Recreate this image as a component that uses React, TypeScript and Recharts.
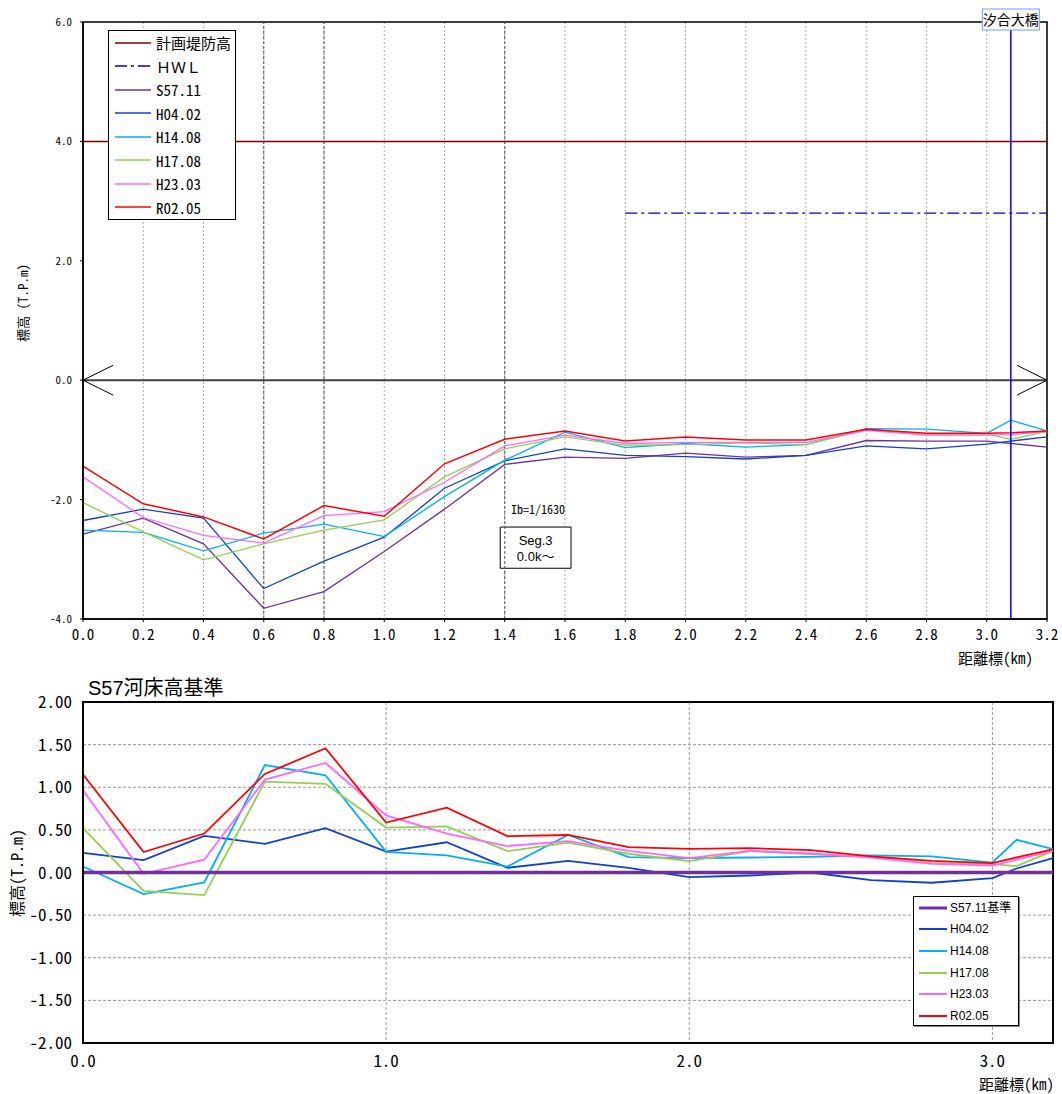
import React from 'react'
import {
  LineChart,
  Line,
  XAxis,
  YAxis,
  CartesianGrid,
  Legend,
  ReferenceLine,
  ReferenceArea,
  ReferenceDot,
} from 'recharts'

// 距離標 (km)。3.08kは汐合大橋の位置
const distKm = [0.0, 0.2, 0.4, 0.6, 0.8, 1.0, 1.2, 1.4, 1.6, 1.8, 2.0, 2.2, 2.4, 2.6, 2.8, 3.0, 3.08, 3.2]

// 上段：平均河床高 (T.P.m)
const planBank = [4.0, 4.0, 4.0, 4.0, 4.0, 4.0, 4.0, 4.0, 4.0, 4.0, 4.0, 4.0, 4.0, 4.0, 4.0, 4.0, 4.0, 4.0]
const hwlLevel = [null, null, null, null, null, null, null, null, null, 2.8, 2.8, 2.8, 2.8, 2.8, 2.8, 2.8, 2.8, 2.8]
const bedS5711 = [-2.58, -2.31, -2.74, -3.82, -3.54, -2.87, -2.16, -1.41, -1.29, -1.31, -1.22, -1.29, -1.26, -1.01, -1.02, -1.02, -1.06, -1.12]
const bedH0402 = [-2.35, -2.16, -2.31, -3.49, -3.03, -2.63, -1.81, -1.35, -1.15, -1.26, -1.28, -1.32, -1.26, -1.1, -1.15, -1.07, -1.02, -0.95]
const bedH1408 = [-2.51, -2.55, -2.86, -2.56, -2.41, -2.62, -1.95, -1.34, -0.87, -1.13, -1.06, -1.12, -1.08, -0.81, -0.82, -0.89, -0.67, -0.85]
const bedH1708 = [-2.05, -2.54, -3.01, -2.74, -2.51, -2.34, -1.62, -1.15, -0.95, -1.09, -1.08, -1.05, -1.08, -0.83, -0.91, -0.9, -0.99, -0.86]
const bedH2303 = [-1.62, -2.3, -2.6, -2.73, -2.27, -2.2, -1.71, -1.1, -0.92, -1.06, -1.04, -1.04, -1.04, -0.84, -0.92, -0.92, -0.91, -0.86]
const bedR0205 = [-1.44, -2.07, -2.29, -2.66, -2.1, -2.28, -1.4, -0.99, -0.85, -1.02, -0.95, -1.0, -1.0, -0.82, -0.89, -0.89, -0.88, -0.85]

// 下段：S57.11河床高との差 (m)
const diffS5711 = [0, 0, 0, 0, 0, 0, 0, 0, 0, 0, 0, 0, 0, 0, 0, 0, 0, 0]
const diffH0402 = [0.23, 0.145, 0.43, 0.336, 0.52, 0.245, 0.355, 0.055, 0.137, 0.055, -0.055, -0.035, 0.0, -0.09, -0.12, -0.066, 0.047, 0.168]
const diffH1408 = [0.07, -0.254, -0.117, 1.26, 1.14, 0.242, 0.2, 0.07, 0.44, 0.18, 0.168, 0.176, 0.184, 0.2, 0.19, 0.117, 0.383, 0.273]
const diffH1708 = [0.52, -0.215, -0.266, 1.066, 1.04, 0.527, 0.54, 0.25, 0.35, 0.22, 0.133, 0.25, 0.215, 0.184, 0.113, 0.098, 0.074, 0.254]
const diffH2303 = [0.965, -0.015, 0.15, 1.09, 1.285, 0.67, 0.457, 0.31, 0.367, 0.254, 0.168, 0.254, 0.223, 0.176, 0.1, 0.082, 0.15, 0.254]
const diffR0205 = [1.15, 0.24, 0.457, 1.156, 1.457, 0.586, 0.76, 0.426, 0.44, 0.297, 0.277, 0.285, 0.262, 0.19, 0.137, 0.11, 0.176, 0.27]

// 目盛
const TOP_X_TICKS = [0, 0.2, 0.4, 0.6, 0.8, 1.0, 1.2, 1.4, 1.6, 1.8, 2.0, 2.2, 2.4, 2.6, 2.8, 3.0, 3.2]
const TOP_Y_TICKS = [-4, -2, 0, 2, 4, 6]
const DARK_GRID_KM = [0.6, 0.8, 1.4]
const BOTTOM_X_TICKS = [0, 1, 2, 3]
const BOTTOM_Y_TICKS = [-2, -1.5, -1, -0.5, 0, 0.5, 1, 1.5, 2]
const BOTTOM_Y_MINOR = [-1.75, -1.25, -0.75, -0.25, 0.25, 0.75, 1.25, 1.75]

// 注記
const BRIDGE_KM = 3.08
const BRIDGE_NAME = '汐合大橋'
const IB_TEXT = 'Ib=1/1630'
const IB_POS = { km: 1.51, y: -2.18 }
const SEG_LINES = ['Seg.3', '0.0k〜']
const SEG_BOX = { km1: 1.385, km2: 1.62, y1: -3.15, y2: -2.46 }
const ARROW_DX = 0.1
const ARROW_DY = 0.25

const GOTHIC = "'Noto Sans Mono CJK JP', 'Noto Sans CJK JP', monospace"
const SANS = "'Liberation Sans', Arial, 'Noto Sans CJK JP', sans-serif"

const PURPLE = '#7030A0'
const BLUE = '#1040D0'
const CYAN = '#00B0F0'
const GREEN = '#92D050'
const PINK = '#FF66FF'
const RED = '#FF0000'

const TOP_SERIES = [
  { key: 'plan', name: '計画堤防高', color: '#800000', width: 1.5 },
  { key: 'hwl', name: 'ＨＷＬ', color: '#0000CC', width: 1.3, dash: '12 4 3 4' },
  { key: 's57', name: 'S57.11', color: PURPLE, width: 1.3 },
  { key: 'h04', name: 'H04.02', color: BLUE, width: 1.3 },
  { key: 'h14', name: 'H14.08', color: CYAN, width: 1.3 },
  { key: 'h17', name: 'H17.08', color: GREEN, width: 1.3 },
  { key: 'h23', name: 'H23.03', color: PINK, width: 1.3 },
  { key: 'r02', name: 'R02.05', color: RED, width: 1.5 },
]

const BOTTOM_SERIES = [
  { key: 'base', name: 'S57.11基準', color: PURPLE, width: 3.5 },
  { key: 'h04', name: 'H04.02', color: BLUE, width: 1.8 },
  { key: 'h14', name: 'H14.08', color: CYAN, width: 1.8 },
  { key: 'h17', name: 'H17.08', color: GREEN, width: 1.8 },
  { key: 'h23', name: 'H23.03', color: PINK, width: 1.8 },
  { key: 'r02', name: 'R02.05', color: RED, width: 1.8 },
]

function TopXTick({ x, y, payload }: any) {
  return (
    <text x={x} y={y + 18} textAnchor="middle" fontSize={15} fontFamily={GOTHIC} fill="#000">
      {Number(payload.value).toFixed(1)}
    </text>
  )
}

function TopYTick({ x, y, payload }: any) {
  return (
    <text x={x - 8} y={y + 4} textAnchor="end" fontSize={11} fontFamily={GOTHIC} fill="#000">
      {Number(payload.value).toFixed(1)}
    </text>
  )
}

function BottomXTick({ x, y, payload }: any) {
  return (
    <text x={x} y={y + 24} textAnchor="middle" fontSize={17} fontFamily={GOTHIC} fill="#000">
      {Number(payload.value).toFixed(1)}
    </text>
  )
}

function BottomYTick({ x, y, payload }: any) {
  return (
    <text x={x - 11} y={y + 6} textAnchor="end" fontSize={17} fontFamily={GOTHIC} fill="#000">
      {Number(payload.value).toFixed(2)}
    </text>
  )
}

function TopLegend() {
  return (
    <div style={{ width: 128, height: 190, border: '1px solid #000', background: '#fff', boxSizing: 'border-box', paddingLeft: 6 }}>
      {TOP_SERIES.map((s) => (
        <div key={s.key} style={{ display: 'flex', alignItems: 'center', height: 23.5 }}>
          <svg width={36} height={4}>
            <line x1={0} y1={2} x2={36} y2={2} stroke={s.color} strokeWidth={s.width} strokeDasharray={s.dash} />
          </svg>
          <span style={{ marginLeft: 5, fontSize: 15, fontFamily: GOTHIC, lineHeight: 1, color: '#000' }}>{s.name}</span>
        </div>
      ))}
    </div>
  )
}

function BottomLegend() {
  return (
    <div style={{ width: 106, height: 130, border: '1px solid #000', background: '#fff', boxSizing: 'border-box', padding: '0 0 0 5px', boxShadow: '1px 1px 0 #888' }}>
      {BOTTOM_SERIES.map((s) => (
        <div key={s.key} style={{ display: 'flex', alignItems: 'center', height: 21.6 }}>
          <svg width={28} height={4}>
            <line x1={0} y1={2} x2={28} y2={2} stroke={s.color} strokeWidth={s.key === 'base' ? 3 : 2} />
          </svg>
          <span style={{ marginLeft: 3, fontSize: 12, fontFamily: SANS, lineHeight: 1, color: '#000' }}>{s.name}</span>
        </div>
      ))}
    </div>
  )
}

function TopChart() {
  const rows = distKm.map((km, i) => ({
    km,
    plan: planBank[i],
    hwl: hwlLevel[i],
    s57: bedS5711[i],
    h04: bedH0402[i],
    h14: bedH1408[i],
    h17: bedH1708[i],
    h23: bedH2303[i],
    r02: bedR0205[i],
  }))

  return (
    <LineChart width={1062} height={670} data={rows} margin={{ top: 22, right: 15, bottom: 0, left: 0 }}>
      <CartesianGrid horizontal={false} stroke="#aaa" strokeDasharray="2 2" />
      {DARK_GRID_KM.map((km) => (
        <ReferenceLine key={km} x={km} stroke="#555" strokeDasharray="3 2" />
      ))}
      <XAxis
        dataKey="km"
        type="number"
        domain={[0, 3.2]}
        ticks={TOP_X_TICKS}
        interval={0}
        height={51}
        tickSize={3}
        tickMargin={0}
        tickLine={{ stroke: '#000' }}
        axisLine={{ stroke: '#000', strokeWidth: 1.5 }}
        tick={<TopXTick />}
        label={(p: any) => (
          <text x={p.viewBox.x + p.viewBox.width - 14} y={p.viewBox.y + 45} textAnchor="end" fontSize={15} fontFamily={GOTHIC} fill="#000">
            距離標(km)
          </text>
        )}
      />
      <YAxis
        type="number"
        domain={[-4, 6]}
        ticks={TOP_Y_TICKS}
        interval={0}
        width={83}
        tickSize={3}
        tickMargin={0}
        tickLine={{ stroke: '#000' }}
        axisLine={{ stroke: '#000', strokeWidth: 1.5 }}
        tick={<TopYTick />}
        label={(p: any) => (
          <text
            x={22}
            y={303}
            transform="rotate(-90 22 303)"
            textAnchor="middle"
            dominantBaseline="central"
            fontSize={13}
            fontFamily={GOTHIC}
            fill="#000"
          >
            標高 (T.P.m)
          </text>
        )}
      />
      <ReferenceArea x1={0} x2={3.2} y1={-4} y2={6} fill="none" stroke="#000" strokeWidth={1.5} />
      <ReferenceLine y={0} stroke="#404040" strokeWidth={2} />
      <ReferenceLine segment={[{ x: 0, y: 0 }, { x: ARROW_DX, y: ARROW_DY }]} stroke="#000" />
      <ReferenceLine segment={[{ x: 0, y: 0 }, { x: ARROW_DX, y: -ARROW_DY }]} stroke="#000" />
      <ReferenceLine segment={[{ x: 3.2, y: 0 }, { x: 3.2 - ARROW_DX, y: ARROW_DY }]} stroke="#000" />
      <ReferenceLine segment={[{ x: 3.2, y: 0 }, { x: 3.2 - ARROW_DX, y: -ARROW_DY }]} stroke="#000" />
      {TOP_SERIES.map((s) => (
        <Line
          key={s.key}
          dataKey={s.key}
          name={s.name}
          type="linear"
          stroke={s.color}
          strokeWidth={s.width}
          strokeDasharray={s.dash}
          dot={false}
          activeDot={false}
          isAnimationActive={false}
        />
      ))}
      <ReferenceLine
        x={BRIDGE_KM}
        stroke="#0000FF"
        strokeWidth={1.5}
        label={(p: any) => (
          <g>
            <rect x={p.viewBox.x - 28.5} y={p.viewBox.y - 13} width={57} height={21} fill="#fff" stroke="#7799ff" />
            <text x={p.viewBox.x} y={p.viewBox.y + 3} textAnchor="middle" fontSize={14} fontFamily={GOTHIC} fill="#000">
              {BRIDGE_NAME}
            </text>
          </g>
        )}
      />
      <ReferenceDot
        x={IB_POS.km}
        y={IB_POS.y}
        r={0}
        fill="none"
        stroke="none"
        label={(p: any) => (
          <text x={p.viewBox.x + p.viewBox.width / 2} y={p.viewBox.y + p.viewBox.height / 2 + 4} textAnchor="middle" fontSize={12} fontFamily={GOTHIC} fill="#000">
            {IB_TEXT}
          </text>
        )}
      />
      <ReferenceArea
        x1={SEG_BOX.km1}
        x2={SEG_BOX.km2}
        y1={SEG_BOX.y1}
        y2={SEG_BOX.y2}
        fill="#fff"
        fillOpacity={1}
        stroke="#000"
        label={(p: any) => {
          const cx = p.viewBox.x + p.viewBox.width / 2
          const cy = p.viewBox.y + p.viewBox.height / 2
          return (
            <text textAnchor="middle" fontSize={13} fontFamily={SANS} fill="#000">
              <tspan x={cx} y={cy - 3}>{SEG_LINES[0]}</tspan>
              <tspan x={cx} y={cy + 13}>{SEG_LINES[1]}</tspan>
            </text>
          )
        }}
      />
      <Legend
        content={<TopLegend />}
        layout="horizontal"
        verticalAlign="middle"
        align="center"
        wrapperStyle={{ left: 108, top: 30, width: 128, height: 190 }}
      />
    </LineChart>
  )
}

function BottomChart() {
  const rows = distKm.map((km, i) => ({
    km,
    base: diffS5711[i],
    h04: diffH0402[i],
    h14: diffH1408[i],
    h17: diffH1708[i],
    h23: diffH2303[i],
    r02: diffR0205[i],
  }))
  const drawOrder = [...BOTTOM_SERIES.slice(1), BOTTOM_SERIES[0]]

  return (
    <LineChart width={1062} height={424} data={rows} margin={{ top: 32, right: 9, bottom: 0, left: 0 }}>
      <CartesianGrid stroke="#999" strokeDasharray="3 2" />
      <XAxis
        dataKey="km"
        type="number"
        domain={[0, 3.2]}
        ticks={BOTTOM_X_TICKS}
        interval={0}
        height={51}
        tickSize={0}
        tickMargin={0}
        axisLine={{ stroke: '#000', strokeWidth: 2 }}
        tick={<BottomXTick />}
        label={(p: any) => (
          <text x={p.viewBox.x + p.viewBox.width + 1} y={p.viewBox.y + 47} textAnchor="end" fontSize={15} fontFamily={GOTHIC} fill="#000">
            距離標(km)
          </text>
        )}
      />
      <YAxis
        type="number"
        domain={[-2, 2]}
        ticks={BOTTOM_Y_TICKS}
        interval={0}
        width={83}
        tickSize={0}
        tickMargin={0}
        axisLine={{ stroke: '#000', strokeWidth: 2 }}
        tick={<BottomYTick />}
        label={(p: any) => (
          <text
            x={16}
            y={203}
            transform="rotate(-90 16 203)"
            textAnchor="middle"
            dominantBaseline="central"
            fontSize={16}
            fontFamily={GOTHIC}
            fill="#000"
          >
            標高(T.P.m)
          </text>
        )}
      />
      <YAxis
        yAxisId="minor"
        type="number"
        domain={[-2, 2]}
        ticks={BOTTOM_Y_MINOR}
        interval={0}
        mirror
        tick={false}
        tickSize={4}
        tickLine={{ stroke: '#000' }}
        axisLine={false}
      />
      <ReferenceArea x1={0} x2={3.2} y1={-2} y2={2} fill="none" stroke="#000" strokeWidth={2} />
      {drawOrder.map((s) => (
        <Line
          key={s.key}
          dataKey={s.key}
          name={s.name}
          type="linear"
          stroke={s.color}
          strokeWidth={s.width}
          dot={false}
          activeDot={false}
          isAnimationActive={false}
        />
      ))}
      <Legend
        content={<BottomLegend />}
        layout="horizontal"
        verticalAlign="middle"
        align="center"
        wrapperStyle={{ left: 913, top: 226, width: 106, height: 130 }}
      />
    </LineChart>
  )
}

export default function App() {
  return (
    <div style={{ position: 'absolute', left: 0, top: 0, width: 1062, height: 1094, background: '#fff' }}>
      <div style={{ position: 'absolute', left: 0, top: 0 }}>
        <TopChart />
      </div>
      <div style={{ position: 'absolute', left: 88, top: 676, fontSize: 20, lineHeight: '24px', fontFamily: SANS, color: '#000' }}>
        S57河床高基準
      </div>
      <div style={{ position: 'absolute', left: 0, top: 670 }}>
        <BottomChart />
      </div>
    </div>
  )
}
